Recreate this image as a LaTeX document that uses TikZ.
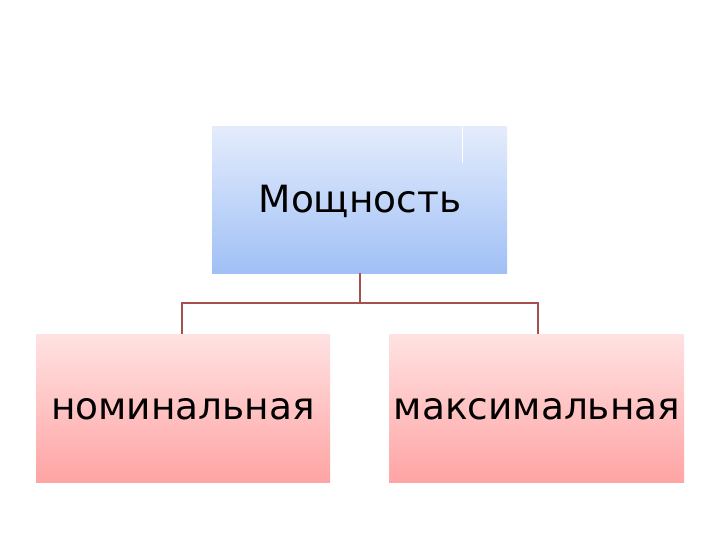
\documentclass[tikz,border=0pt]{standalone}
\usepackage{fontspec}
\setmainfont{DejaVu Sans}
\begin{document}
\begin{tikzpicture}[x=1pt,y=-1pt,
  boxtext/.style={font=\fontsize{37.5}{42}\selectfont, text=black},
  link/.style={draw={rgb,255:red,165;green,80;blue,78}, line width=1.6pt}]
\definecolor{bluetop}{RGB}{228,236,252}
\definecolor{bluebot}{RGB}{160,192,246}
\definecolor{pinktop}{RGB}{255,226,226}
\definecolor{pinkbot}{RGB}{255,164,164}
\useasboundingbox (0,0) rectangle (720,540);
\fill[white] (0,0) rectangle (720,540);
% boxes
\shade[top color=bluetop, bottom color=bluebot] (212,127) rectangle (507,273);
\draw[white, line width=1pt] (462,127) -- (462,163);
\shade[top color=pinktop, bottom color=pinkbot] (36,334) rectangle (330,482);
\shade[top color=pinktop, bottom color=pinkbot] (389,334) rectangle (684,482);
\node[boxtext] (top) at (360,201) {Мощность};
\node[boxtext] (left) at (183,409) {номинальная};
\node[boxtext] (right) at (537,409) {максимальная};
\coordinate (tb) at (360,273);
\coordinate (lt) at (182,334);
\coordinate (rt) at (538,334);
\draw[link] (tb) -- (360,303) -| (lt);
\draw[link] (360,303) -| (rt);
\end{tikzpicture}
\end{document}
